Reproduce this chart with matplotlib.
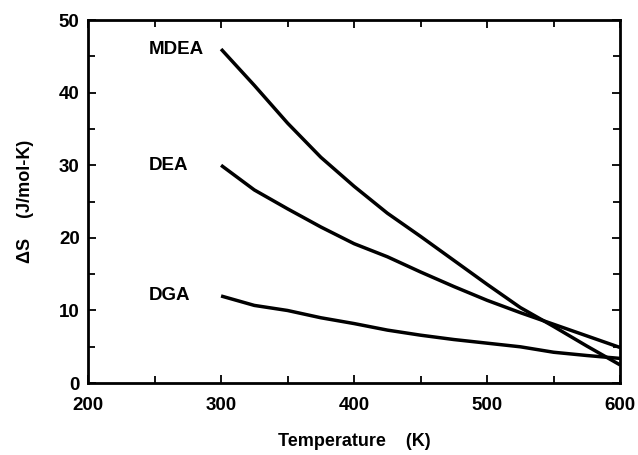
import matplotlib
matplotlib.use("Agg")
import matplotlib.pyplot as plt
from matplotlib.ticker import MultipleLocator

plt.rcParams['font.family'] = ['Liberation Sans', 'DejaVu Sans']
plt.rcParams['font.weight'] = 'bold'

temps = [300, 325, 350, 375, 400, 425, 450, 475, 500, 525, 550, 575, 600]
mdea = [46.0, 41.0, 35.8, 31.1, 27.1, 23.4, 20.2, 16.9, 13.6, 10.4, 7.8, 5.1, 2.5]
dea = [30.0, 26.6, 24.0, 21.5, 19.2, 17.4, 15.3, 13.3, 11.4, 9.7, 8.1, 6.5, 4.9]
dga = [12.0, 10.7, 10.0, 9.0, 8.2, 7.3, 6.6, 6.0, 5.5, 5.0, 4.25, 3.8, 3.4]
series_names = ["MDEA", "DEA", "DGA"]
series = [mdea, dea, dga]

x_ticks = [200, 300, 400, 500, 600]
y_ticks = [0, 10, 20, 30, 40, 50]

fig = plt.figure(figsize=(6.38, 4.55), dpi=100)
ax = fig.add_axes([0.138, 0.158, 0.834, 0.798])

for name, vals in zip(series_names, series):
    ax.plot(temps, vals, color='black', lw=2.5, solid_capstyle='butt')
    ax.text(246, vals[0], name, ha='left', va='center', fontsize=13.5, fontweight='bold')

ax.set_xlim(200, 600)
ax.set_ylim(0, 50)
ax.set_xticks(x_ticks)
ax.set_yticks(y_ticks)
ax.xaxis.set_minor_locator(MultipleLocator(50))
ax.yaxis.set_minor_locator(MultipleLocator(5))
ax.tick_params(which='both', direction='in', top=True, right=True, width=1.3, labelsize=13.5)
ax.tick_params(which='major', length=6)
ax.tick_params(which='minor', length=5)
ax.tick_params(axis='x', pad=10)
ax.tick_params(axis='y', pad=6)
for lab in ax.get_xticklabels() + ax.get_yticklabels():
    lab.set_fontweight('bold')
for sp in ax.spines.values():
    sp.set_linewidth(2.0)

ax.set_xlabel("Temperature    (K)", fontsize=13, fontweight='bold', labelpad=14)
ax.set_ylabel("ΔS    (J/mol-K)", fontsize=13, fontweight='bold', labelpad=18)

fig.savefig("out.png", dpi=100)
